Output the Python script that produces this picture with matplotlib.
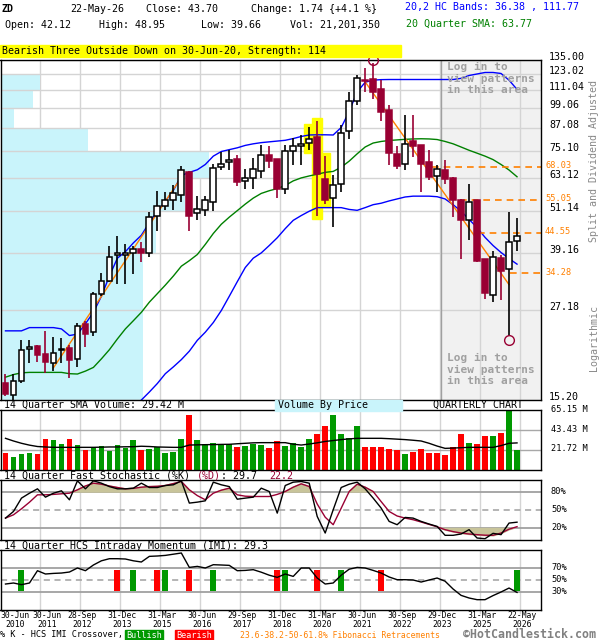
import numpy as np
import matplotlib.pyplot as plt
from matplotlib.patches import Rectangle
from matplotlib.transforms import blended_transform_factory, offset_copy
from matplotlib.ticker import NullLocator

plt.rcParams['font.family'] = ['DejaVu Sans Mono', 'DejaVu Sans']

# quarterly OHLC, 30-Jun-2010 .. 22-May-2026
opens = [17.0, 15.7, 17.2, 21.1, 21.5, 20.4, 19.3, 21.0, 21.2, 19.8,
         24.8, 23.6, 30.1, 32.7, 38.5, 38.7, 39.0, 40.0, 39.0, 49.5,
         52.7, 55.0, 56.8, 65.7, 50.6, 51.6, 54.2, 67.9, 70.0, 71.3,
         62.2, 63.4, 66.2, 73.2, 71.3, 59.1, 75.4, 77.7, 79.4, 82.3,
         63.0, 55.7, 61.0, 85.4, 103.6, 119.0, 119.2, 111.7, 97.8, 74.0,
         69.4, 80.1, 78.1, 70.1, 63.9, 66.8, 63.4, 55.0, 48.4, 55.0,
         37.7, 29.9, 37.8, 35.3, 42.12]
highs = [18.0, 18.0, 22.4, 22.4, 21.6, 23.7, 22.8, 22.7, 21.7, 25.0,
         25.3, 30.5, 34.3, 41.0, 43.7, 41.3, 41.0, 42.0, 50.8, 58.1,
         57.9, 60.6, 68.2, 66.0, 56.2, 56.2, 69.4, 74.7, 75.6, 73.2,
         67.2, 72.1, 78.1, 77.6, 71.3, 78.1, 81.8, 83.2, 87.8, 91.1,
         72.8, 64.4, 88.8, 109.6, 122.5, 127.9, 132.0, 118.6, 101.0, 77.5,
         94.7, 94.7, 78.1, 75.6, 68.6, 70.9, 63.6, 55.3, 60.7, 55.0,
         37.7, 39.7, 38.5, 51.0, 48.95]
lows = [15.6, 15.2, 17.0, 19.3, 19.4, 18.1, 18.3, 19.3, 17.5, 18.8,
        21.3, 23.0, 29.7, 32.4, 32.1, 32.1, 34.2, 37.0, 38.0, 44.9,
        51.4, 51.4, 54.3, 45.0, 48.4, 49.7, 51.1, 66.5, 66.5, 60.1,
        59.1, 59.1, 63.2, 67.4, 55.6, 57.2, 68.9, 68.6, 75.9, 49.7,
        53.7, 46.2, 57.8, 81.1, 101.0, 110.0, 105.4, 91.1, 68.6, 67.0,
        66.5, 72.4, 57.8, 62.3, 57.8, 61.0, 49.2, 37.7, 42.4, 36.8,
        29.1, 28.5, 28.9, 22.9, 39.66]
closes = [15.8, 17.2, 20.9, 21.3, 20.3, 19.4, 20.5, 21.1, 19.6, 24.5,
          23.2, 30.1, 32.7, 38.2, 39.0, 39.2, 40.0, 39.0, 49.4, 52.7,
          54.8, 57.4, 66.8, 49.7, 51.7, 54.8, 67.6, 69.4, 70.9, 61.6,
          63.2, 66.9, 73.5, 70.4, 59.1, 75.1, 77.6, 78.9, 81.5, 65.1,
          54.8, 60.3, 84.7, 103.6, 119.9, 118.0, 110.0, 96.7, 74.3, 68.2,
          78.9, 77.6, 69.4, 63.65, 67.2, 63.0, 55.0, 48.4, 54.2, 37.2,
          30.2, 38.0, 34.9, 41.96, 43.70]

hc_upper = [23.7, 23.7, 23.7, 24.2, 24.2, 24.2, 24.2, 24.0, 23.0, 23.2,
            24.8, 26.7, 29.6, 33.7, 37.8, 39.4, 41.7, 43.8, 47.5, 51.0,
            54.5, 58.4, 64.3, 65.6, 66.7, 69.0, 72.8, 75.0, 75.9, 76.8,
            78.0, 78.8, 79.4, 79.8, 80.2, 80.6, 81.5, 82.6, 83.4, 83.5,
            83.5, 83.4, 87.5, 97.0, 110.0, 117.0, 118.6, 119.0, 119.1, 119.1,
            119.1, 119.1, 119.1, 119.1, 119.1, 119.1, 119.1, 120.0, 122.2, 123.4,
            124.6, 124.6, 123.8, 118.6, 111.77]
lower_start = 17
hc_lower = [15.2, 16.0, 16.9, 18.0, 18.8, 19.7, 20.8, 22.3, 23.5, 25.0,
            27.0, 29.6, 32.5, 35.6, 37.8, 39.1, 41.0, 43.1, 45.7, 48.2,
            49.7, 51.1, 52.3, 52.3, 52.3, 52.3, 51.7, 51.4, 52.3, 53.3,
            53.8, 54.6, 55.3, 56.0, 56.3, 56.3, 56.3, 56.1, 55.3, 53.3,
            51.1, 48.5, 46.0, 43.2, 41.0, 39.2, 37.7, 36.38]
sma20 = [17.6, 17.9, 18.1, 18.15, 18.15, 18.15, 18.15, 18.15, 18.0, 17.96,
         18.3, 18.74, 19.8, 21.0, 22.5, 24.0, 25.3, 26.7, 28.5, 30.1,
         31.8, 33.7, 35.9, 37.2, 38.7, 41.3, 44.3, 47.0, 49.2, 51.3,
         53.5, 55.6, 57.3, 58.3, 59.1, 60.3, 62.1, 63.3, 64.1, 64.8,
         65.6, 66.0, 67.8, 70.5, 73.9, 77.2, 79.2, 80.0, 80.5, 80.8,
         81.1, 81.3, 81.4, 81.3, 81.0, 80.0, 78.8, 77.2, 75.6, 74.2,
         72.8, 71.2, 69.0, 66.6, 63.77]

price_ticks = [15.20, 27.18, 39.16, 51.14, 63.12, 75.10, 87.08, 99.06, 111.04, 123.02, 135.00]
vbp = [17.8, 17.8, 19.4, 23.1, 26.1, 11.0, 1.75, 4.1, 5.0, 0.2]

trend_up = ([6, 22], [18.7, 63.5])
trend_dn = ([45, 63], [117.3, 31.9])
swing_hi, swing_lo = 46, 63
fib_levels = [68.03, 55.05, 44.55, 34.28]
fib_from = [53.3, 56.9, 59.1, 63.1]
pattern_bars = [38, 39, 40]

volumes = [18.1, 14.5, 17.0, 18.1, 17.0, 33.7, 32.6, 27.9, 33.7, 27.1,
           21.7, 23.5, 26.1, 20.6, 27.1, 24.2, 32.6, 21.7, 22.8, 25.3,
           18.8, 19.9, 33.7, 59.7, 32.6, 27.9, 29.0, 27.9, 27.9, 25.3,
           26.1, 28.2, 27.1, 24.2, 31.5, 26.1, 29.7, 25.3, 33.7, 39.1,
           47.8, 59.7, 39.1, 34.4, 47.8, 25.3, 25.3, 25.3, 22.8, 21.7,
           17.4, 19.9, 22.8, 18.8, 18.8, 16.3, 25.3, 39.1, 29.7, 28.2,
           37.3, 37.3, 40.5, 65.15, 21.2]
vol_dir = "RGGGRRGGRG" "RGGGGGGRGG" "GGGRGGGGGR" "GGGRRGGGGR" "RGGGGRRRRR" "GRRRRRRRGR" "RGRGG"
vol_sma = [34.4, 31.5, 29.0, 27.0, 25.5, 25.0, 24.6, 24.6, 24.6, 24.6,
           24.6, 24.6, 24.8, 25.0, 25.0, 25.2, 25.3, 25.8, 25.5, 25.0,
           24.8, 24.6, 24.6, 27.1, 27.3, 27.5, 27.6, 27.8, 27.9, 28.5,
           29.0, 29.5, 29.7, 29.7, 29.7, 29.7, 28.0, 27.1, 28.2, 29.5,
           31.0, 32.0, 33.0, 33.8, 34.4, 34.4, 34.4, 34.4, 34.0, 33.5,
           33.0, 32.3, 31.5, 29.0, 26.0, 23.5, 23.8, 24.2, 24.6, 24.6,
           24.6, 24.6, 26.5, 29.0, 29.42]

stoch_k = [36.5, 47.6, 69.8, 78.0, 85.3, 71.4, 78.0, 82.0, 67.0, 98.6,
           85.3, 98.6, 94.7, 89.0, 85.3, 85.3, 86.4, 94.7, 87.5, 87.5,
           90.8, 92.0, 98.6, 61.5, 63.1, 65.3, 96.4, 92.0, 89.0, 68.0,
           69.8, 71.4, 86.4, 80.8, 44.8, 90.8, 96.4, 97.5, 94.7, 39.3,
           11.6, 50.4, 87.5, 93.0, 96.4, 85.3, 69.8, 53.2, 31.0, 25.5,
           37.6, 36.5, 31.0, 26.6, 22.7, 7.8, 7.8, 10.0, 17.2, 3.3,
           2.2, 11.1, 8.9, 28.2, 29.7]
stoch_d = [36.5, 42.0, 52.0, 63.0, 75.3, 75.3, 76.0, 77.0, 78.0, 83.6,
           90.0, 94.7, 93.0, 90.0, 87.5, 85.3, 86.0, 88.0, 89.0, 89.5,
           90.8, 94.0, 97.5, 83.6, 74.0, 67.0, 78.0, 83.0, 86.4, 75.3,
           73.0, 72.5, 72.5, 72.5, 76.0, 80.8, 88.0, 93.6, 89.1, 60.0,
           38.0, 25.5, 53.0, 80.8, 93.0, 88.0, 80.8, 64.0, 47.6, 40.0,
           36.5, 33.8, 30.0, 26.0, 22.0, 17.2, 14.0, 11.6, 10.0, 8.9,
           8.0, 7.8, 11.6, 18.0, 22.2]

imi = [43.3, 45.0, 42.2, 45.0, 65.5, 60.0, 61.0, 61.6, 63.3, 70.0,
       65.5, 75.0, 82.0, 85.5, 85.5, 85.0, 82.0, 80.0, 89.4, 90.0,
       91.0, 93.0, 95.0, 71.0, 72.7, 70.0, 75.5, 75.0, 74.4, 65.5,
       66.0, 67.2, 63.0, 58.0, 54.4, 60.0, 56.0, 70.0, 70.0, 53.3,
       43.3, 45.0, 58.0, 68.0, 71.0, 70.0, 66.0, 61.6, 55.0, 50.5,
       50.5, 50.0, 46.6, 50.0, 53.3, 48.0, 35.0, 24.4, 20.0, 17.2,
       17.2, 24.0, 30.0, 36.6, 29.3]
bull_cross = [2, 16, 20, 26, 35, 42, 64]
bear_cross = [14, 19, 23, 34, 39, 47]

tick_bars = [0, 4, 9, 14, 19, 24, 29, 34, 39, 44, 49, 54, 59, 64]
tick_dates = ["30-Jun", "30-Jun", "28-Sep", "31-Dec", "31-Mar", "30-Jun", "29-Sep",
              "31-Dec", "31-Mar", "30-Jun", "30-Sep", "29-Dec", "31-Mar", "22-May"]
tick_years = ["2010", "2011", "2012", "2013", "2015", "2016", "2017",
              "2018", "2020", "2021", "2022", "2023", "2025", "2026"]

RED = '#990033'
UPC = '#009900'
DNC = '#ff0000'
ORANGE = '#ff8000'
GRID = '#d4d4d4'
FS = 7.2

n = len(closes)
idx = np.arange(n)
W, H = 600, 640
fig = plt.figure(figsize=(6, 6.4), dpi=100)


def ftext(x, y, s, **kw):
    kw.setdefault('fontsize', FS)
    kw.setdefault('va', 'center')
    return fig.text(x / W, 1 - y / H, s, **kw)


def panel(top, bottom):
    a = fig.add_axes([0.5 / W, 1 - bottom / H, 540.5 / W, (bottom - top) / H])
    a.set_xlim(-0.625, 67.0)
    a.set_xticks([])
    a.set_yticks([])
    for sp in a.spines.values():
        sp.set_color('black')
        sp.set_linewidth(1)
    return a


ax = panel(60, 400)
axv = panel(410, 470)
axs = panel(480, 540)
axi = panel(550, 610)
xr = ax.get_xlim()[1]
grid_x = [b + 0.375 for b in tick_bars[1:]]

# ---- main price panel
ax.set_yscale('log')
ax.set_ylim(price_ticks[0], price_ticks[-1])
ax.yaxis.set_minor_locator(NullLocator())
ax.set_yticks([])
ax.axvspan(54.46, xr, color='#f1f1f1', zorder=0)
ax.axvline(54.46, color='#a0a0a0', lw=1, zorder=0.5)
for gx in grid_x:
    ax.axvline(gx, color=GRID, lw=1, zorder=0.2)
ax.barh(price_ticks[:-1], vbp, height=np.diff(price_ticks), left=ax.get_xlim()[0],
        align='edge', color='#c9f4fb', zorder=0.3)
for lv in price_ticks:
    ax.axhline(lv, color=GRID, lw=1, zorder=0.4)

for i in pattern_bars:
    lo, hi = lows[i] / 1.02, highs[i] * 1.02
    ax.add_patch(Rectangle((i - 0.6, lo), 1.2, hi - lo, color='#ffff00', zorder=1))

ax.plot(idx, hc_upper, color='#0000ff', lw=1, zorder=2)
ax.plot(idx[lower_start:], hc_lower, color='#0000ff', lw=1, zorder=2)
ax.plot(idx, sma20, color='#008000', lw=1, zorder=2)
ax.plot(*trend_up, color=ORANGE, lw=1, zorder=2.5)
ax.plot(*trend_dn, color=ORANGE, lw=1, zorder=2.5)

tr_r = blended_transform_factory(ax.transAxes, ax.transData)
for lv, st in zip(fib_levels, fib_from):
    ax.plot([st, xr], [lv, lv], color=ORANGE, lw=1.2, ls=(0, (4, 3)), zorder=2.5, clip_on=False)
    ax.text(1.0075, lv, f'{lv:.2f}', transform=offset_copy(tr_r, fig=fig, y=1, units='dots'),
            color=ORANGE, fontsize=6.2, va='center', ha='left')

for i in idx:
    o, h, l, c = opens[i], highs[i], lows[i], closes[i]
    up = c >= o
    col = 'black' if up else RED
    ax.vlines(i, l, h, color=col, lw=1.2, zorder=3)
    b0, b1 = min(o, c), max(o, c)
    ax.add_patch(Rectangle((i - 0.36, b0), 0.72, b1 - b0, facecolor='white' if up else RED,
                           edgecolor=col, lw=1.1, zorder=4))

ax.plot(swing_hi, highs[swing_hi] * 1.02, 'o', mfc='none', mec=RED, ms=7, mew=1, clip_on=False, zorder=5)
ax.plot(swing_lo, lows[swing_lo] / 1.025, 'o', mfc='none', mec=RED, ms=7, mew=1, clip_on=False, zorder=5)

tr_lab = offset_copy(tr_r, fig=fig, y=3, units='dots')
for lv in price_ticks:
    ax.text(1.0148, lv, f'{lv:.2f}', transform=tr_lab, fontsize=FS, va='center', ha='left')

ftext(594, 161, 'Split and Dividend Adjusted', rotation=90, color='#888888', ha='center')
ftext(594, 338, 'Logarithmic', rotation=90, color='#888888', ha='center')
for ty in (62, 353):
    ftext(447, ty, 'Log in to\nview patterns\nin this area', va='top', fontsize=8,
          fontweight='bold', color='#a0a0a0', linespacing=1.2)

# ---- header
ftext(2, 9, 'ZD', fontweight='bold')
ftext(70, 9, '22-May-26')
ftext(146, 9, 'Close: 43.70')
ftext(251, 9, 'Change: 1.74 {+4.1 %}')
ftext(5, 25, 'Open: 42.12')
ftext(99, 25, 'High: 48.95')
ftext(201, 25, 'Low: 39.66')
ftext(290, 25, 'Vol: 21,201,350')
ftext(405, 7, '20,2 HC Bands: 36.38 , 111.77', color='#0000ff')
ftext(406, 24, '20 Quarter SMA: 63.77', color='#008000')
fig.patches.append(Rectangle((0, 1 - 57 / H), 401 / W, 12 / H, transform=fig.transFigure,
                             color='#ffff00', zorder=0))
ftext(2, 51, 'Bearish Three Outside Down on 30-Jun-20, Strength: 114')

# ---- volume panel
axv.set_ylim(0, 65.15)
for gx in grid_x:
    axv.axvline(gx, color=GRID, lw=1, zorder=0.2)
for lv in (21.72, 43.43):
    axv.axhline(lv, color='#a8a8a8', lw=1, zorder=0.5)
axv.bar(idx, volumes, width=0.72, color=[UPC if d == 'G' else DNC for d in vol_dir], zorder=2)
axv.plot(idx, vol_sma, color='black', lw=1, zorder=3)
tr_v = offset_copy(blended_transform_factory(axv.transAxes, axv.transData), fig=fig, y=1, units='dots')
for lv in (65.15, 43.43, 21.72):
    axv.text(1.0185, lv, f'{lv:.2f} M', transform=tr_v, fontsize=6.2, va='center')
ftext(4, 405, '14 Quarter SMA Volume: 29.42 M')
fig.patches.append(Rectangle((275 / W, 1 - 411 / H), 127 / W, 11 / H, transform=fig.transFigure,
                             color='#c9f4fb', zorder=0))
ftext(278, 405, 'Volume By Price')
ftext(433, 405, 'QUARTERLY CHART')

# ---- stochastic panel
axs.set_ylim(0, 100)
for gx in grid_x:
    axs.axvline(gx, color=GRID, lw=1, zorder=0.2)
axs.axhline(80, color='#a0a0a0', lw=1.3, zorder=0.5)
axs.axhline(20, color='#a0a0a0', lw=1.3, zorder=0.5)
axs.axhline(50, color='#a0a0a0', lw=1.1, ls=(0, (4, 3)), zorder=0.5)
sd = np.array(stoch_d)
axs.fill_between(idx, sd, 80, where=sd > 80, interpolate=True, color='#c8c49a', zorder=1)
axs.fill_between(idx, sd, 20, where=sd < 20, interpolate=True, color='#c8c49a', zorder=1)
axs.plot(idx, stoch_k, color='black', lw=1, zorder=3)
axs.plot(idx, stoch_d, color=RED, lw=1, zorder=2.5)
tr_s = blended_transform_factory(axs.transAxes, axs.transData)
for lv in (80, 50, 20):
    axs.text(1.0185, lv, f'{lv}%', transform=tr_s, fontsize=6.2, va='center')
cw = 6.02
ftext(4, 476, '14 Quarter Fast Stochastic (%K)')
ftext(4 + 32 * cw, 476, '(%D)', color=RED)
ftext(4 + 36 * cw, 476, ': 29.7')
ftext(4 + 44 * cw, 476, '22.2', color=RED)

# ---- IMI panel
axi.set_ylim(0, 100)
for gx in grid_x:
    axi.axvline(gx, color=GRID, lw=1, zorder=0.2)
    axi.plot([gx, gx], [0, -5], color=GRID, lw=1, clip_on=False)
axi.axhline(70, color='#a0a0a0', lw=1.3, zorder=0.5)
axi.axhline(30, color='#a0a0a0', lw=1.3, zorder=0.5)
axi.axhline(50, color='#a0a0a0', lw=1.1, ls=(0, (4, 3)), zorder=0.5)
axi.bar(bull_cross, 35, bottom=32, width=0.75, color=UPC, zorder=2)
axi.bar(bear_cross, 35, bottom=32, width=0.75, color=DNC, zorder=2)
axi.plot(idx, imi, color='black', lw=1, zorder=3)
tr_i = blended_transform_factory(axi.transAxes, axi.transData)
for lv in (70, 50, 30):
    axi.text(1.0185, lv, f'{lv}%', transform=tr_i, fontsize=6.2, va='center')
ftext(4, 546, '14 Quarter HCS Intraday Momentum (IMI): 29.3')

tr_x = blended_transform_factory(axi.transData, fig.transFigure)
for k, (b, d, yv) in enumerate(zip(tick_bars, tick_dates, tick_years)):
    xpos = b + 1.25 if k < 2 else b + 0.6
    axi.text(xpos, 1 - 616 / H, d, transform=tr_x, fontsize=5.9, ha='center', va='center')
    axi.text(xpos, 1 - 624.5 / H, yv, transform=tr_x, fontsize=5.9, ha='center', va='center')

# ---- legend row
ftext(0, 635, '% K - HCS IMI Crossover,', fontsize=6.1)
fig.patches.append(Rectangle((125 / W, 1 - 640 / H), 38 / W, 10 / H, transform=fig.transFigure,
                             color=UPC, zorder=0))
ftext(144, 635, 'Bullish', fontsize=6.1, color='white', ha='center')
fig.patches.append(Rectangle((175 / W, 1 - 640 / H), 38 / W, 10 / H, transform=fig.transFigure,
                             color=DNC, zorder=0))
ftext(194, 635, 'Bearish', fontsize=6.1, color='white', ha='center')
ftext(240, 635, '23.6-38.2-50-61.8% Fibonacci Retracements', fontsize=5.9, color=ORANGE)
ftext(463, 634.5, '\u00a9HotCandlestick.com', fontsize=8.4, color='#808080', fontweight='bold')

fig.savefig('out.png', dpi=100)
